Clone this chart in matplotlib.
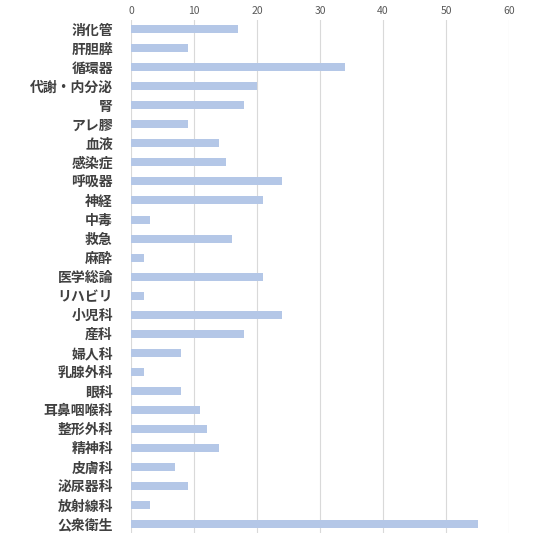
import matplotlib
matplotlib.use("Agg")
import matplotlib.pyplot as plt

categories = ["消化管", "肝胆膵", "循環器", "代謝・内分泌", "腎", "アレ膠", "血液", "感染症",
              "呼吸器", "神経", "中毒", "救急", "麻酔", "医学総論", "リハビリ", "小児科",
              "産科", "婦人科", "乳腺外科", "眼科", "耳鼻咽喉科", "整形外科", "精神科",
              "皮膚科", "泌尿器科", "放射線科", "公衆衛生"]
values = [17, 9, 34, 20, 18, 9, 14, 15, 24, 21, 3, 16, 2, 21, 2, 24, 18, 8, 2, 8,
          11, 12, 14, 7, 9, 3, 55]
xticks = [0, 10, 20, 30, 40, 50, 60]

plt.rcParams['font.family'] = ['Noto Sans CJK JP', 'DejaVu Sans']

fig = plt.figure(figsize=(5.48, 5.48), dpi=100)
ax = fig.add_axes([0.239, 0.0265, 0.929 - 0.239, 0.964 - 0.0265])

y = list(range(len(categories)))
ax.barh(y, values, height=0.42, color="#B4C7E7", zorder=3)
ax.set_ylim(len(categories) - 0.5, -0.5)
ax.set_xlim(0, 60)
ax.set_xticks(xticks)
ax.xaxis.tick_top()
ax.tick_params(axis='x', length=0, labelsize=7.5, labelcolor="#595959", pad=3)
ax.tick_params(axis='y', length=0, pad=13)
ax.set_yticks(y)
ax.set_yticklabels(categories, fontsize=10, fontweight='bold', color="#404040")
ax.grid(axis='x', color="#D9D9D9", linewidth=0.8, zorder=0)
for s in ax.spines.values():
    s.set_visible(False)

fig.savefig("out.png", dpi=100)
